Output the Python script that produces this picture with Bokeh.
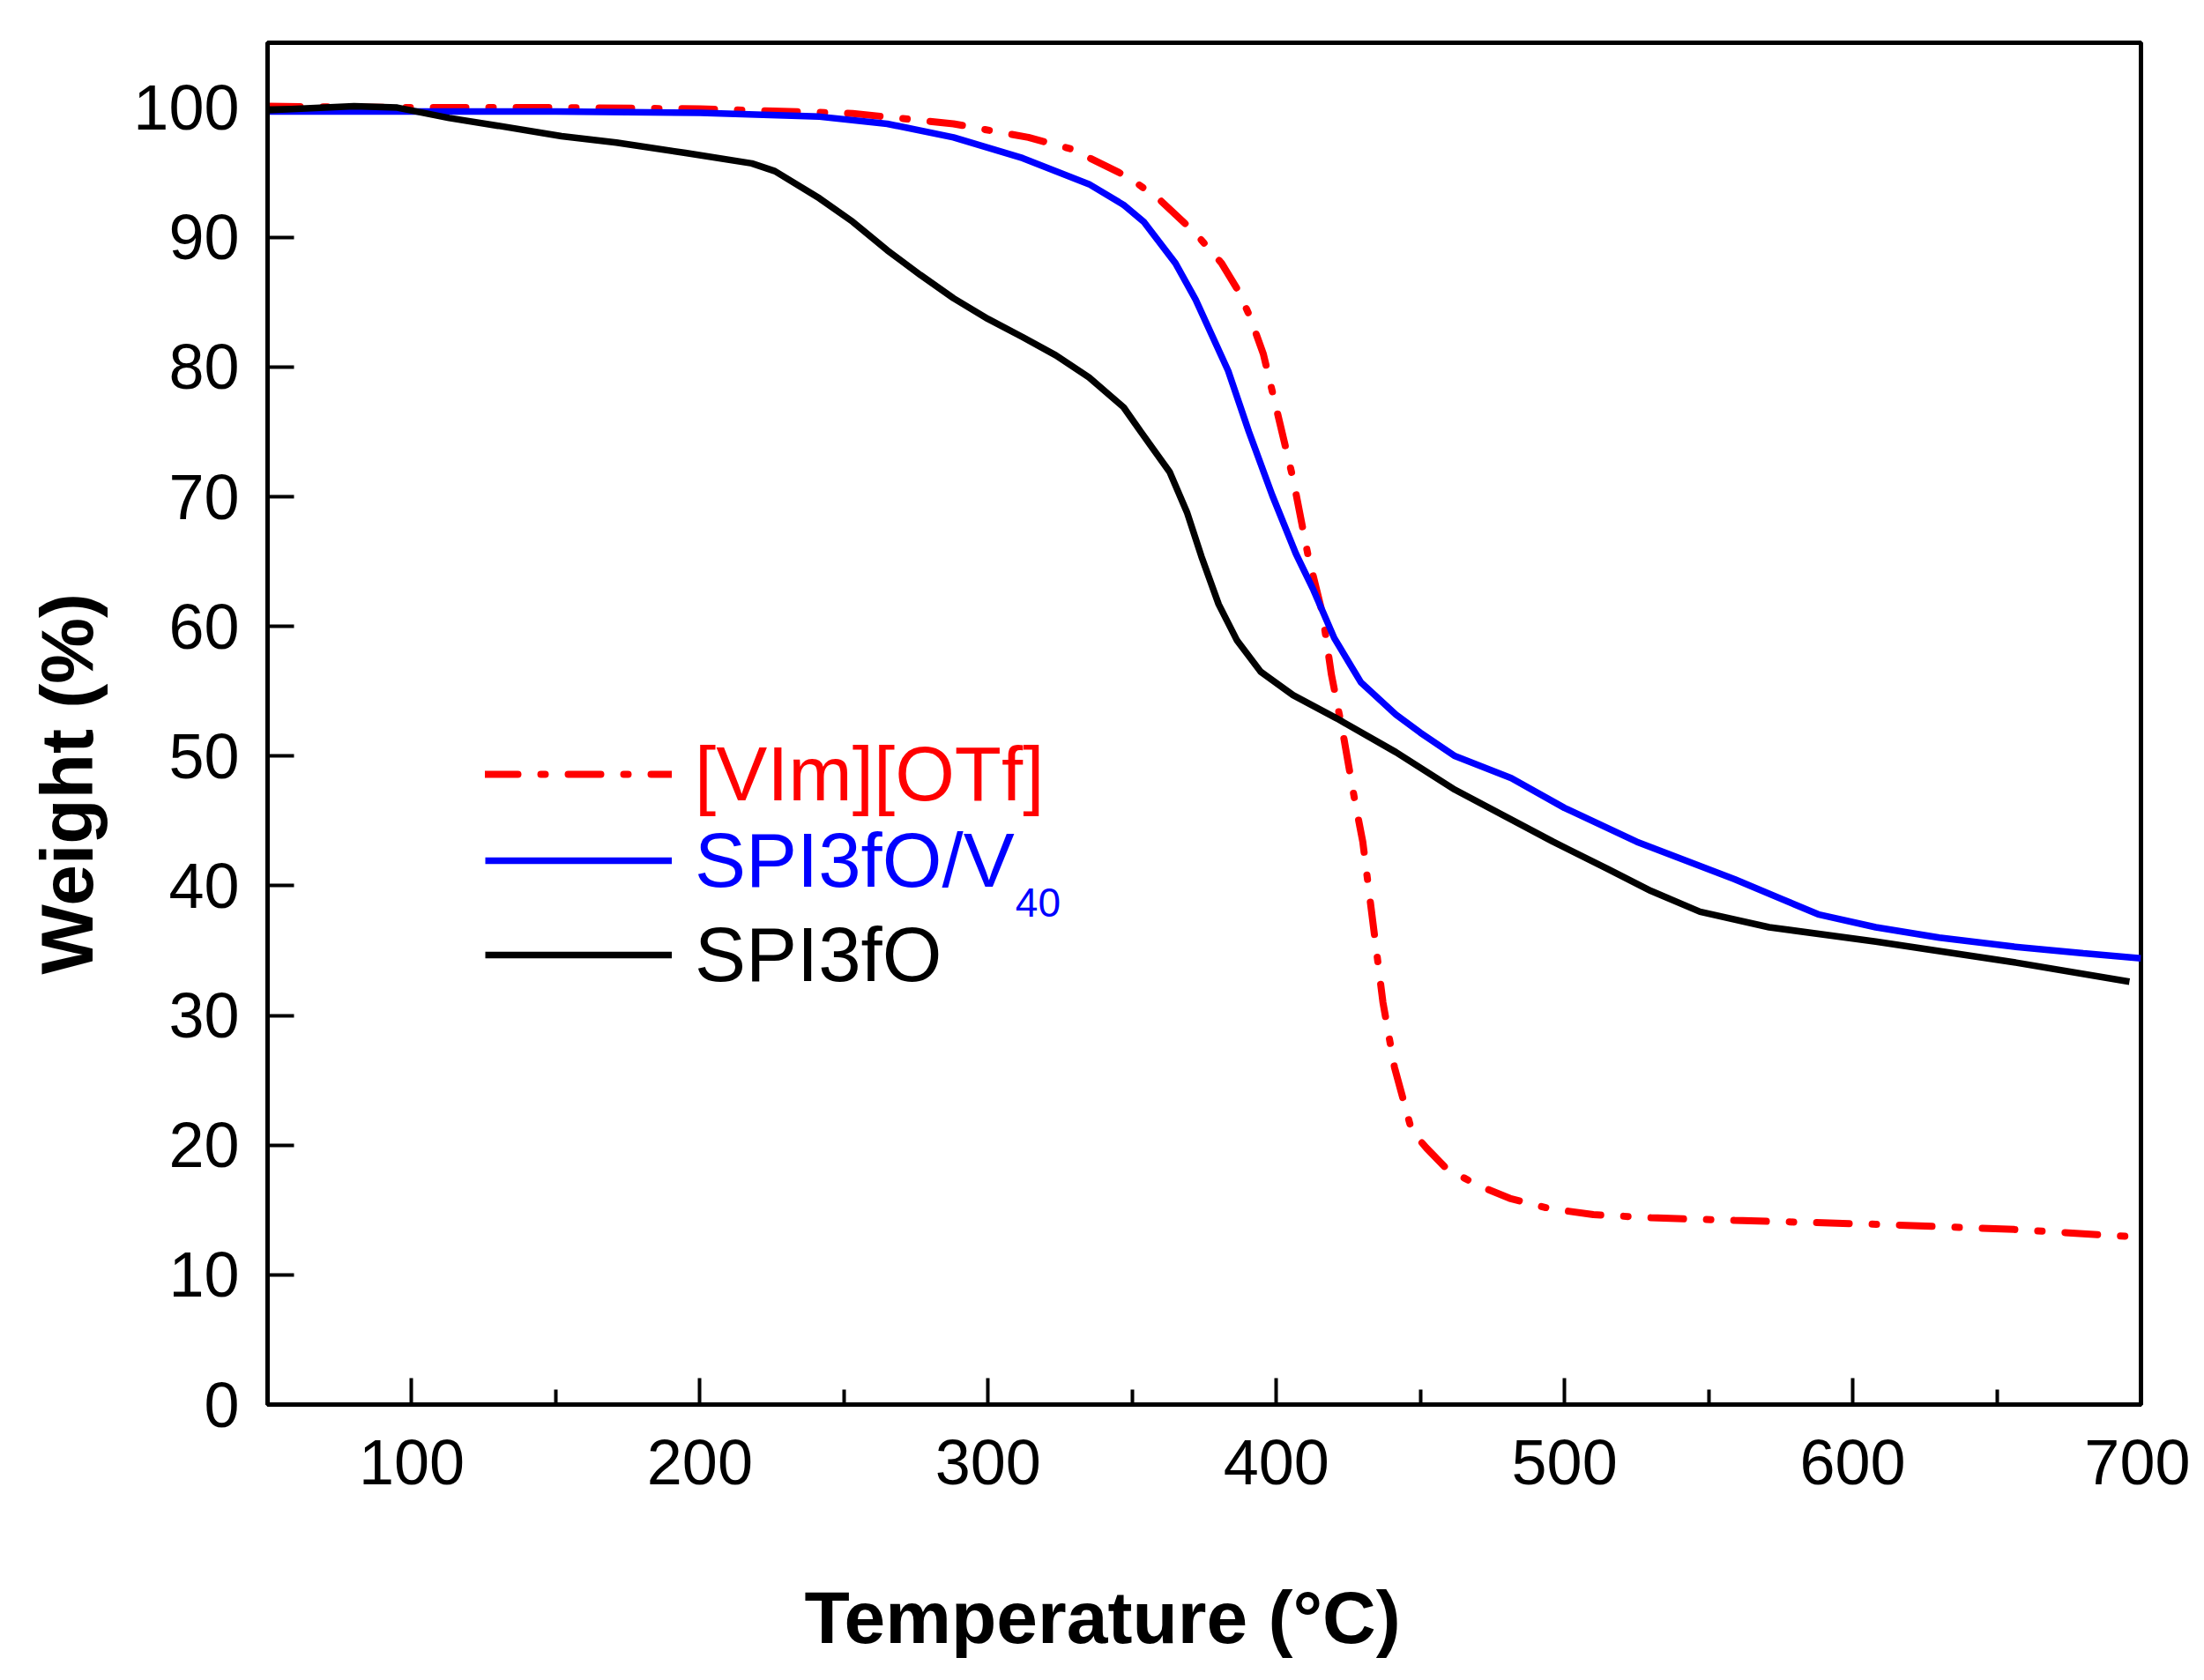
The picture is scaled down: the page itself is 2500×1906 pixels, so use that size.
from bokeh.plotting import figure
from bokeh.models import Range1d, FixedTicker, Legend, LegendItem, Label, Title
from bokeh.embed import file_html
from bokeh.resources import INLINE

# TGA curves: temperature (C) and weight (%)
vim_t = [50, 100, 150, 200, 253, 288, 314, 329, 349, 360, 372, 381, 387, 391, 395.5, 399.7,
         405.8, 410.9, 416, 419.1, 423.1, 427.2, 430, 433.5, 437, 441, 447, 452, 459, 470, 481,
         495, 510, 530, 559, 608, 656, 700]
vim_w = [100.1, 100.0, 100.0, 99.9, 99.55, 98.75, 97.7, 96.8, 94.6, 92.8, 90.3, 88.0, 85.8,
         83.8, 81.0, 77.1, 71.4, 65.6, 61.0, 56.3, 51.8, 46.6, 43.4, 37.2, 31.0, 26.0, 21.1,
         19.8, 18.2, 16.9, 15.9, 15.1, 14.65, 14.4, 14.2, 13.9, 13.5, 12.9]

spiv_t = [50, 100, 150, 200, 241.5, 265, 288, 312, 323.5, 335, 347, 354, 365, 372, 383.3, 390.5,
          398.6, 406.8, 412.9, 420.1, 429.3, 441.5, 450, 462, 481.5, 500, 525, 559, 588, 608,
          630, 656, 680, 700]
spiv_w = [99.7, 99.7, 99.7, 99.6, 99.3, 98.75, 97.7, 96.1, 95.1, 94.1, 92.5, 91.2, 88.0, 85.2,
          79.7, 75.0, 70.1, 65.6, 62.8, 59.1, 55.7, 53.2, 51.8, 50.0, 48.3, 46.0, 43.4, 40.5,
          37.8, 36.8, 36.0, 35.3, 34.8, 34.4]

spi_t = [50, 80, 95, 113, 130, 152, 171, 195, 218, 226, 241.5, 253, 265, 276.5, 288, 300, 312,
         323.5, 335, 347, 353, 363, 369, 374, 380, 386.4, 394.6, 405.8, 421, 441.5, 462, 496,
         515, 530, 547, 571, 608, 656, 696]
spi_w = [99.8, 100.1, 100.0, 99.2, 98.6, 97.8, 97.3, 96.5, 95.7, 95.1, 93.0, 91.2, 89.0, 87.1,
         85.3, 83.7, 82.3, 80.9, 79.2, 76.9, 75.0, 71.9, 68.8, 65.4, 61.7, 58.9, 56.5, 54.7,
         52.9, 50.3, 47.4, 43.4, 41.3, 39.6, 38.0, 36.8, 35.7, 34.1, 32.6]

x_ticks = [100, 200, 300, 400, 500, 600, 700]
x_minor = [50, 150, 250, 350, 450, 550, 650]
y_ticks = [0, 10, 20, 30, 40, 50, 60, 70, 80, 90, 100]

FONT = "Liberation Sans"

p = figure(width=2484, height=1890, output_backend="svg", toolbar_location=None,
           x_range=Range1d(50, 700), y_range=Range1d(0, 105),
           min_border_left=303, min_border_right=56, min_border_top=48, min_border_bottom=297)
p.background_fill_color = "white"
p.border_fill_color = "white"
p.grid.visible = False
p.outline_line_color = "black"
p.outline_line_width = 5
p.outline_line_alpha = 1

r_vim = p.line(vim_t, vim_w, color="#ff0000", line_width=8, line_dash="37 26 5 26",
               line_cap="round")
r_spiv = p.line(spiv_t, spiv_w, color="#0000ff", line_width=7.5)
r_spi = p.line(spi_t, spi_w, color="black", line_width=7.5)

p.xaxis.ticker = FixedTicker(ticks=x_ticks, minor_ticks=x_minor)
p.yaxis.ticker = FixedTicker(ticks=y_ticks, minor_ticks=[])
for ax in (p.xaxis, p.yaxis):
    ax.axis_line_width = 5
    ax.major_tick_line_width = 4
    ax.minor_tick_line_width = 4
    ax.major_tick_in = 30
    ax.major_tick_out = 0
    ax.minor_tick_in = 17
    ax.minor_tick_out = 0
    ax.major_label_text_font = FONT
    ax.major_label_text_font_size = "72px"
    ax.major_label_text_color = "black"
p.xaxis.major_label_standoff = 40
p.yaxis.major_label_standoff = 32

# axis titles sit off-centre in the original, so use side titles with an offset;
# the empty first line pushes the x title further down
p.add_layout(Title(text="\nTemperature (°C)", align="left", vertical_align="bottom",
                   offset=609, standoff=10, text_font=FONT, text_font_size="84px",
                   text_font_style="bold", text_color="black"), "below")
p.add_layout(Title(text="Weight (%)", align="left", offset=488, standoff=52,
                   text_font=FONT, text_font_size="84px", text_font_style="bold",
                   text_color="black"), "left")

# legend: one entry per box so each label gets its own colour
entries = [("[VIm][OTf]", r_vim, "#ff0000", 665),
           ("SPI3fO/V", r_spiv, "#0000ff", 567),
           ("SPI3fO", r_spi, "black", 460)]
for name, rend, col, yb in entries:
    lg = Legend(items=[LegendItem(label=name, renderers=[rend])], location=(247, yb),
                glyph_width=212, glyph_height=40, label_standoff=26, padding=0, margin=0,
                spacing=0, border_line_color=None, background_fill_alpha=0,
                label_text_font=FONT, label_text_font_size="87px", label_text_color=col)
    p.add_layout(lg)

p.add_layout(Label(x=309.5, y=38.7, text="40", text_baseline="middle", text_align="left",
                   text_font=FONT, text_font_size="46px", text_color="#0000ff"))

open("out.html", "w").write(file_html(p, INLINE))
